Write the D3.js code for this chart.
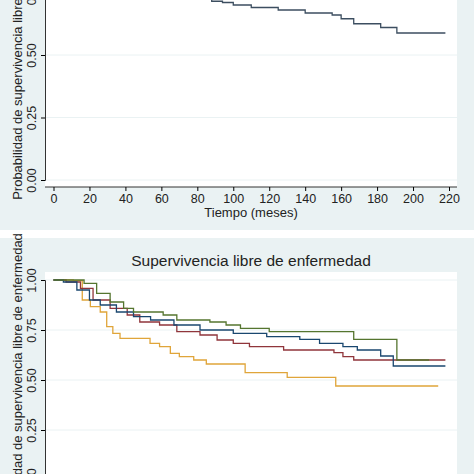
<!DOCTYPE html>
<html><head><meta charset="utf-8">
<script src="https://cdn.jsdelivr.net/npm/d3@7"></script>
<style>body{margin:0;background:#fff}svg{display:block}</style>
</head><body><div id="wrapper"></div>
<script>
// datos (meses, probabilidad)
const yTicks = [0, 0.25, 0.5, 0.75, 1];
const xTicks = [0, 20, 40, 60, 80, 100, 120, 140, 160, 180, 200, 220];
const overall = [[0,1],[10,.97],[20,.9],[30,.84],[40,.8],[60,.76],[80,.73],[88,.715],[94,.71],[100,.70],[110,.69],[125,.68],[140,.668],[155,.66],[160,.645],[167,.625],[182,.61],[191,.588],[218,.588]];
const green = [[0,1],[10,1],[17,.983],[24,.933],[31.5,.89],[39,.858],[44.5,.84],[61,.825],[68.6,.80],[87,.79],[96,.775],[104,.758],[120,.742],[167,.703],[191,.60],[209,.60]];
const navy = [[0,1],[5.5,.99],[13,.95],[20,.9],[26,.875],[35,.84],[44.5,.817],[54,.80],[67,.775],[81.5,.75],[100,.733],[118.6,.717],[137,.703],[148,.683],[161,.667],[169,.65],[182,.62],[189,.57],[218,.57]];
const maroon = [[0,1],[7,.99],[15,.958],[22,.9],[31.5,.858],[41,.825],[48,.79],[59,.775],[68.6,.742],[81.5,.725],[91,.70],[100,.683],[109,.667],[128,.65],[156,.637],[161,.617],[167,.60],[218,.60]];
const orange = [[0,1],[11,.997],[16,.90],[20.5,.867],[26,.84],[29.6,.767],[33,.733],[37,.708],[53.7,.683],[59,.667],[65,.633],[70,.617],[78,.60],[85,.58],[106.6,.537],[130,.513],[157,.47],[214,.47]];

const svg = d3.select("#wrapper").append("svg").attr("width",474).attr("height",474);
const font = "Liberation Sans, Arial, sans-serif";
const x = d3.scaleLinear().domain([0,220]).range([53.5,449]);

function panel(top, bottom, plotTop, y, series, title, showX) {
    svg.append("rect").attr("x",0).attr("y",top).attr("width",474).attr("height",bottom-top).attr("fill","#eaf2f3");
    const plotBottom = y(0) + 7;
    svg.append("rect").attr("x",45).attr("y",plotTop).attr("width",412).attr("height",plotBottom-plotTop).attr("fill","#fff");
    const clip = "c"+top;
    svg.append("clipPath").attr("id",clip).append("rect").attr("x",45).attr("y",plotTop).attr("width",412).attr("height",plotBottom-plotTop);
    const g = svg.append("g").attr("clip-path",`url(#${clip})`);
    g.selectAll(".grid").data(yTicks).join("line")
        .attr("x1",45).attr("x2",457).attr("y1",d=>y(d)).attr("y2",d=>y(d))
        .attr("stroke","#eaf2f3").attr("stroke-width",1);
    const line = d3.line().x(d=>x(d[0])).y(d=>y(d[1])).curve(d3.curveStepAfter);
    series.forEach(s => g.append("path").attr("d",line(s.data)).attr("fill","none")
        .attr("stroke",s.color).attr("stroke-width",1.3));
    const ya = svg.append("g").attr("transform","translate(45,0)")
        .call(d3.axisLeft(y).tickValues(yTicks).tickFormat(d3.format(".2f")).tickSize(4).tickPadding(3));
    ya.selectAll("text").attr("x",-9).attr("y",0).attr("dy","0").attr("transform","rotate(-90,-9,0)")
        .attr("text-anchor","middle")
        .attr("font-family",font).attr("font-size",12.5).attr("fill","#222");
    ya.select(".domain").attr("stroke","#333");
    svg.append("text").attr("transform",`translate(22,${(plotTop+plotBottom)/2}) rotate(-90)`)
        .attr("text-anchor","middle").attr("font-family",font).attr("font-size",13).attr("fill","#222")
        .text("Probabilidad de supervivencia libre de enfermedad");
    if (showX) {
        const xa = svg.append("g").attr("transform",`translate(0,${plotBottom})`)
            .call(d3.axisBottom(x).tickValues(xTicks).tickSize(4).tickPadding(3));
        xa.selectAll("text").attr("font-family",font).attr("font-size",12.5).attr("fill","#222");
        xa.select(".domain").attr("stroke","#333").attr("d",`M45,0H457`);
        svg.append("text").attr("x",251).attr("y",plotBottom+30).attr("text-anchor","middle")
            .attr("font-family",font).attr("font-size",13).attr("fill","#222").text("Tiempo (meses)");
    }
    if (title) svg.append("text").attr("x",251).attr("y",top+28).attr("text-anchor","middle")
        .attr("font-family",font).attr("font-size",15.5).attr("fill","#222").text(title);
}

const yTop = d3.scaleLinear().domain([0,1]).range([180,-70]);
panel(0, 230, -80, yTop, [{data:overall,color:"#3c4e60"}], null, true);

const yBot = d3.scaleLinear().domain([0,1]).range([480,280]);
panel(238, 474, 272, yBot, [
    {data:orange,color:"#e0a53a"},
    {data:maroon,color:"#90353b"},
    {data:navy,color:"#1a476f"},
    {data:green,color:"#55752f"}
], "Supervivencia libre de enfermedad", false);
</script>
</body></html>
